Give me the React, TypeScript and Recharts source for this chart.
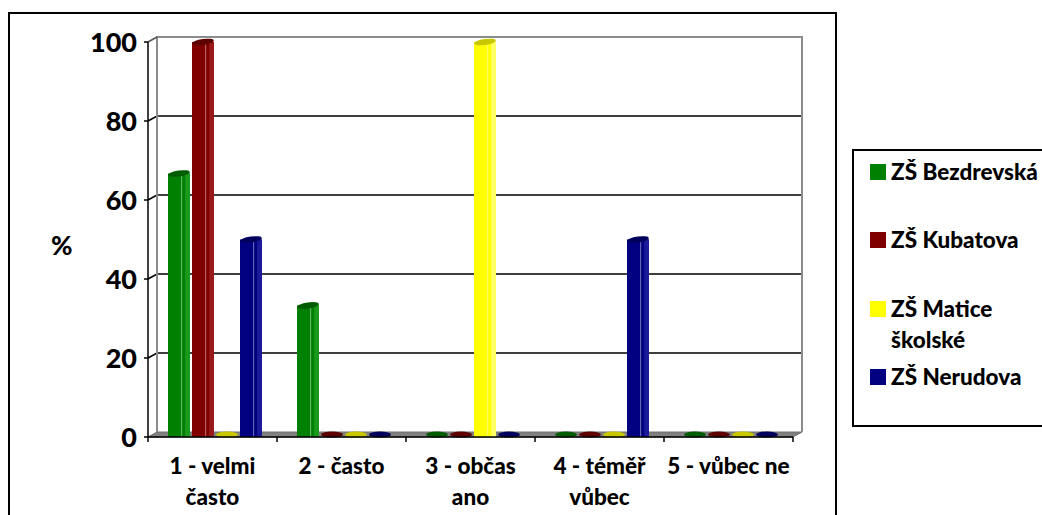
import React from 'react';
import { BarChart, Bar, XAxis, YAxis, CartesianGrid, Legend } from 'recharts';

// categories (answers) and values in % per school
const categories = ['1 - velmi\nčasto', '2 - často', '3 - občas\nano', '4 - téměř\nvůbec', '5 - vůbec ne'];
const seriesNames = ['ZŠ Bezdrevská', 'ZŠ Kubatova', 'ZŠ Matice školské', 'ZŠ Nerudova'];
const bezdrevska = [66.7, 33.3, 0, 0, 0];
const kubatova = [100, 0, 0, 0, 0];
const maticeSkolske = [0, 0, 100, 0, 0];
const nerudova = [50, 0, 0, 50, 0];
const yTicks = [0, 20, 40, 60, 80, 100];

const seriesColors = ['#008000', '#800000', '#FFFF00', '#000080'];
const sideColors = ['#1a9a1a', '#9a1a1a', '#ffff66', '#1a1a9a'];
const capColors = ['#005c00', '#5c0000', '#c8c800', '#00005c'];

const data = categories.map((name, i) => ({
  name,
  s0: bezdrevska[i],
  s1: kubatova[i],
  s2: maticeSkolske[i],
  s3: nerudova[i],
}));

// layout of the plot (frame decoration only)
const W = 1042;
const H = 515;
const PLOT_LEFT = 148;
const PLOT_RIGHT = 793;
const PLOT_TOP = 42;
const PLOT_BOTTOM = 437;
const DX = 9; // 3d depth offset
const DY = 5;
const BAND = (PLOT_RIGHT - PLOT_LEFT) / categories.length;
const FONT = 'Lato, Carlito, Calibri, sans-serif';
const WEIGHT = 900;

const GridLine = (p: any) => {
  const { x1, y1, x2 } = p;
  const isTop = Math.abs(y1 - PLOT_TOP) < 1;
  const isBottom = Math.abs(y1 - PLOT_BOTTOM) < 1;
  if (isBottom) {
    return (
      <g>
        <polygon
          points={`${x1},${y1} ${x1 + DX},${y1 - DY} ${x2 + DX},${y1 - DY} ${x2},${y1}`}
          fill="#808080"
          stroke="#6e6e6e"
          strokeWidth={1}
        />
      </g>
    );
  }
  if (isTop) {
    return (
      <g>
        <path
          d={`M${x1 + DX},${PLOT_BOTTOM - DY} L${x1 + DX},${y1 - DY} L${x2 + DX},${y1 - DY} L${x2 + DX},${PLOT_BOTTOM - DY}`}
          fill="none"
          stroke="#8c8c8c"
          strokeWidth={2}
        />
        <line x1={x1} y1={y1} x2={x1 + DX} y2={y1 - DY} stroke="#555" strokeWidth={1.5} />
      </g>
    );
  }
  return (
    <path
      d={`M${x1},${y1} L${x1 + DX},${y1 - DY} L${x2 + DX},${y1 - DY}`}
      fill="none"
      stroke="#000"
      strokeWidth={1.5}
    />
  );
};

const CategoryTick = (p: any) => {
  const { x, payload, index } = p;
  const lines = String(payload.value).split('\n');
  return (
    <g>
      <line x1={x - BAND / 2} y1={PLOT_BOTTOM} x2={x - BAND / 2} y2={PLOT_BOTTOM + 5} stroke="#000" strokeWidth={1.5} />
      {index === categories.length - 1 && (
        <line x1={x + BAND / 2} y1={PLOT_BOTTOM} x2={x + BAND / 2} y2={PLOT_BOTTOM + 5} stroke="#000" strokeWidth={1.5} />
      )}
      <text textAnchor="middle" fontFamily={FONT} fontWeight={WEIGHT} fontSize={22.5} fill="#000">
        {lines.map((l, i) => (
          <tspan key={i} x={x} y={PLOT_BOTTOM + 37 + i * 31}>
            {l}
          </tspan>
        ))}
      </text>
    </g>
  );
};

const Cylinder = (p: any) => {
  const { x, y, width, height, si } = p;
  const x0 = x + 3;
  const w = width - 1;
  if (!height || height < 0.5) {
    return <ellipse cx={x0 + w / 2} cy={y - 2.5} rx={w / 2} ry={3} fill={capColors[si]} />;
  }
  return (
    <g>
      <rect x={x0} y={y} width={w} height={height} fill={seriesColors[si]} />
      <rect x={x0 + w * 0.78} y={y} width={w * 0.22} height={height} fill={sideColors[si]} />
      <line x1={x0 + w * 0.62} y1={y} x2={x0 + w * 0.62} y2={y + height} stroke="rgba(255,255,255,0.45)" strokeWidth={1} />
      <ellipse cx={x0 + w / 2} cy={y} rx={w / 2} ry={3} fill={capColors[si]} transform={`rotate(-8 ${x0 + w / 2} ${y})`} />
    </g>
  );
};

const legendRowTops = [5, 73, 142, 210];

const LegendBox = (props: any) => {
  const payload = props.payload || [];
  return (
    <div
      style={{
        position: 'relative',
        width: 200,
        height: 278,
        border: '2px solid #000',
        borderRight: 'none',
        boxSizing: 'border-box',
        background: '#fff',
        fontFamily: FONT,
        fontWeight: WEIGHT,
        fontSize: 22.5,
        lineHeight: '31px',
        color: '#000',
      }}
    >
      {payload.map((item: any, i: number) => (
        <div key={i} style={{ position: 'absolute', left: 16, top: legendRowTops[i], display: 'flex' }}>
          <div style={{ width: 16, height: 16, marginTop: 8, background: item.color, flex: 'none' }} />
          <div style={{ marginLeft: 5, width: 170 }}>{item.value}</div>
        </div>
      ))}
    </div>
  );
};

export default function App() {
  return (
    <div style={{ position: 'absolute', left: 0, top: 0, width: W, height: H, overflow: 'hidden', background: '#fff' }}>
      <div
        style={{
          position: 'absolute',
          left: 8,
          top: 12,
          width: 829,
          height: 540,
          border: '2px solid #000',
          boxSizing: 'border-box',
        }}
      />
      <div style={{ position: 'absolute', left: 0, top: 0 }}>
        <BarChart
          width={W}
          height={H}
          data={data}
          margin={{ top: PLOT_TOP, right: W - PLOT_RIGHT, bottom: H - PLOT_BOTTOM - 60, left: 0 }}
          barCategoryGap={17}
          barGap={1}
        >
          <CartesianGrid horizontal={GridLine} vertical={false} />
          <XAxis
            dataKey="name"
            interval={0}
            height={60}
            tickLine={false}
            axisLine={{ stroke: '#000', strokeWidth: 1.5 }}
            tick={<CategoryTick />}
          />
          <YAxis
            domain={[0, 100]}
            ticks={yTicks}
            interval={0}
            width={PLOT_LEFT}
            tickSize={4}
            tickMargin={7}
            axisLine={{ stroke: '#000', strokeWidth: 1.5 }}
            tickLine={{ stroke: '#000', strokeWidth: 1.5 }}
            tick={{ fill: '#000', fontSize: 27, fontWeight: WEIGHT, fontFamily: FONT }}
            label={{ value: '%', position: 'insideLeft', offset: 51, dy: 6, fill: '#000', fontSize: 26, fontWeight: WEIGHT, fontFamily: FONT }}
          />
          <Legend
            layout="vertical"
            align="center"
            verticalAlign="middle"
            wrapperStyle={{ left: 852, top: 149, width: 200, height: 278 }}
            content={<LegendBox />}
          />
          {seriesNames.map((n, si) => (
            <Bar
              key={n}
              dataKey={`s${si}`}
              name={n}
              fill={seriesColors[si]}
              isAnimationActive={false}
              shape={(p: any) => <Cylinder {...p} si={si} />}
            />
          ))}
        </BarChart>
      </div>
    </div>
  );
}
